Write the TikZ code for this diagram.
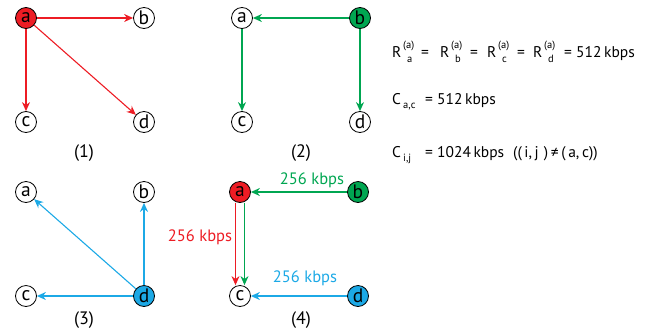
\documentclass[tikz,border=0pt]{standalone}
\usepackage{fontspec}
\setmainfont{PT Sans}
\usetikzlibrary{arrows.meta}
\definecolor{cred}{HTML}{ED1C24}
\definecolor{cgreen}{HTML}{00A651}
\definecolor{ccyan}{HTML}{1CA9E6}
\begin{document}
\begin{tikzpicture}[x=1pt,y=-1pt,
  vtx/.style={circle,draw=black,line width=0.8pt,minimum size=21pt,inner sep=0pt,
    font=\fontsize{19.5}{19.5}\selectfont},
  redfill/.style={fill=cred},
  greenfill/.style={fill=cgreen},
  cyanfill/.style={fill=ccyan},
  edge/.style={line width=1.1pt,-{Stealth[length=9pt,width=8pt]}},
  lbl/.style={font=\fontsize{16.5}{16.5}\selectfont},
  panelcap/.style={font=\fontsize{18}{18}\selectfont},
  eq/.style={font=\fontsize{15.5}{15.5}\selectfont,anchor=base west,inner sep=0pt},
  sm/.style={font=\fontsize{10.5}{10.5}\selectfont,anchor=base west,inner sep=0pt}]
\useasboundingbox (0,0) rectangle (652,335);
% panel 1
\node[vtx,redfill] (a1) at (26,18) {a};
\node[vtx] (b1) at (144,18) {b};
\node[vtx] (c1) at (26,122) {c};
\node[vtx] (d1) at (144,122) {d};
\draw[edge,cred] (a1) -- (b1);
\draw[edge,cred] (a1) -- (c1);
\draw[edge,cred] (a1) -- (d1);
\node[panelcap] (l1) at (84,153) {(1)};
% panel 2
\node[vtx] (a2) at (242,18) {a};
\node[vtx,greenfill] (b2) at (360,18) {b};
\node[vtx] (c2) at (242,122) {c};
\node[vtx] (d2) at (360,122) {d};
\draw[edge,cgreen] (b2) -- (a2);
\draw[edge,cgreen] (b2) -- (d2);
\draw[edge,cgreen] (a2) -- (c2);
\node[panelcap] (l2) at (301,153) {(2)};
% panel 3
\node[vtx] (a3) at (26,192) {a};
\node[vtx] (b3) at (144,192) {b};
\node[vtx] (c3) at (26,296) {c};
\node[vtx,cyanfill] (d3) at (144,296) {d};
\draw[edge,ccyan] (d3) -- (a3);
\draw[edge,ccyan] (d3) -- (b3);
\draw[edge,ccyan] (d3) -- (c3);
\node[panelcap] (l3) at (84,320) {(3)};
% panel 4
\node[vtx,redfill] (a4) at (240,192) {a};
\node[vtx,greenfill] (b4) at (358,192) {b};
\node[vtx] (c4) at (240,296) {c};
\node[vtx,cyanfill] (d4) at (358,296) {d};
\draw[edge,cgreen] (b4) -- (a4);
\draw[edge,ccyan] (d4) -- (c4);
\draw[edge,cred] ([xshift=-4.5pt]a4.south) -- ([xshift=-4.5pt]c4.north);
\draw[edge,cgreen] ([xshift=4.5pt]a4.south) -- ([xshift=4.5pt]c4.north);
\node[lbl,text=cgreen] (g4) at (312,180) {256 kbps};
\node[lbl,text=ccyan] (k4) at (305,278) {256 kbps};
\node[lbl,text=cred] (r4) at (200,237) {256 kbps};
\node[panelcap] (l4) at (301,320) {(4)};
% equations
\node[eq] (e1) at (392,57) {R};
\node[sm] at (403,48) {(a)};
\node[sm] at (407,62) {a};
\node[eq] at (421,57) {=};
\node[eq] at (440,57) {R};
\node[sm] at (451,48) {(a)};
\node[sm] at (455,62) {b};
\node[eq] at (470,57) {=};
\node[eq] at (487,57) {R};
\node[sm] at (498,48) {(a)};
\node[sm] at (502,62) {c};
\node[eq] at (517,57) {=};
\node[eq] at (533,57) {R};
\node[sm] at (544,48) {(a)};
\node[sm] at (548,62) {d};
\node[eq] at (564,57) {= 512\,kbps};
\node[eq] (e2) at (392,104) {C};
\node[sm] at (403,108) {a,c};
\node[eq] at (425,104) {= 512\,kbps};
\node[eq] (e3) at (392,157) {C};
\node[sm] at (403,161) {i,j};
\node[eq] at (425,157) {= 1024\,kbps};
\node[eq] at (513,157) {((\,i,\,j\,\,)\,≠\,(\,a,\,c))};
\end{tikzpicture}
\end{document}
